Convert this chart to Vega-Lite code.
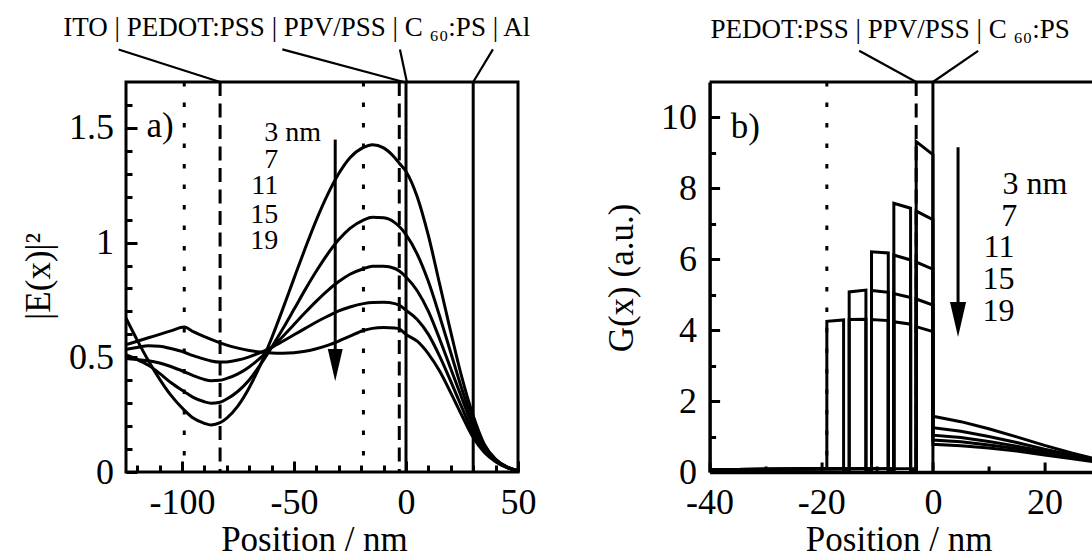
{
  "$schema": "https://vega.github.io/schema/vega-lite/v6.json",
  "autosize": {"type": "none"},
  "padding": {"left": 126, "top": 82, "right": 966, "bottom": 472},
  "background": "white",
  "bounds": "flush",
  "spacing": 191.6,
  "config": {
    "font": "Liberation Serif",
    "axis": {"labelFont": "Liberation Serif", "titleFont": "Liberation Serif", "labelColor": "black", "titleColor": "black", "tickColor": "black", "domainColor": "black", "grid": false, "titleFontWeight": "normal", "labelFlush": false, "labelOverlap": false, "labelBound": false}
  },
  "datasets": {
    "efield": [
      {"s":3,"x":-125,"y":0.67},{"s":3,"x":-120,"y":0.575},{"s":3,"x":-115,"y":0.485},{"s":3,"x":-110,"y":0.405},{"s":3,"x":-105,"y":0.335},{"s":3,"x":-99,"y":0.27},{"s":3,"x":-95,"y":0.235},{"s":3,"x":-90,"y":0.212},{"s":3,"x":-87,"y":0.205},{"s":3,"x":-83,"y":0.215},{"s":3,"x":-80,"y":0.235},{"s":3,"x":-75,"y":0.288},{"s":3,"x":-70,"y":0.367},{"s":3,"x":-65,"y":0.467},{"s":3,"x":-60,"y":0.583},{"s":3,"x":-55,"y":0.711},{"s":3,"x":-50,"y":0.844},{"s":3,"x":-45,"y":0.975},{"s":3,"x":-40,"y":1.099},{"s":3,"x":-35,"y":1.209},{"s":3,"x":-30,"y":1.301},{"s":3,"x":-25,"y":1.37},{"s":3,"x":-19,"y":1.415},{"s":3,"x":-15,"y":1.427},{"s":3,"x":-10,"y":1.413},{"s":3,"x":-5,"y":1.37},{"s":3,"x":-3,"y":1.346},{"s":3,"x":0,"y":1.31},{"s":3,"x":5,"y":1.2},{"s":3,"x":10,"y":1.03},{"s":3,"x":15,"y":0.82},{"s":3,"x":20,"y":0.61},{"s":3,"x":25,"y":0.41},{"s":3,"x":30,"y":0.245},{"s":3,"x":35,"y":0.12},{"s":3,"x":40,"y":0.055},{"s":3,"x":45,"y":0.022},{"s":3,"x":50,"y":0.006},
      {"s":7,"x":-125,"y":0.51},{"s":7,"x":-120,"y":0.49},{"s":7,"x":-115,"y":0.465},{"s":7,"x":-110,"y":0.43},{"s":7,"x":-105,"y":0.39},{"s":7,"x":-99,"y":0.35},{"s":7,"x":-95,"y":0.325},{"s":7,"x":-90,"y":0.306},{"s":7,"x":-87,"y":0.3},{"s":7,"x":-83,"y":0.304},{"s":7,"x":-80,"y":0.318},{"s":7,"x":-75,"y":0.352},{"s":7,"x":-70,"y":0.401},{"s":7,"x":-65,"y":0.468},{"s":7,"x":-60,"y":0.543},{"s":7,"x":-55,"y":0.624},{"s":7,"x":-50,"y":0.709},{"s":7,"x":-45,"y":0.795},{"s":7,"x":-40,"y":0.876},{"s":7,"x":-35,"y":0.95},{"s":7,"x":-30,"y":1.013},{"s":7,"x":-25,"y":1.062},{"s":7,"x":-19,"y":1.098},{"s":7,"x":-15,"y":1.11},{"s":7,"x":-10,"y":1.108},{"s":7,"x":-5,"y":1.087},{"s":7,"x":-3,"y":1.07},{"s":7,"x":0,"y":1.035},{"s":7,"x":5,"y":0.95},{"s":7,"x":10,"y":0.83},{"s":7,"x":15,"y":0.68},{"s":7,"x":20,"y":0.52},{"s":7,"x":25,"y":0.36},{"s":7,"x":30,"y":0.22},{"s":7,"x":35,"y":0.115},{"s":7,"x":40,"y":0.055},{"s":7,"x":45,"y":0.022},{"s":7,"x":50,"y":0.006},
      {"s":11,"x":-125,"y":0.495},{"s":11,"x":-120,"y":0.49},{"s":11,"x":-115,"y":0.485},{"s":11,"x":-110,"y":0.475},{"s":11,"x":-105,"y":0.46},{"s":11,"x":-99,"y":0.437},{"s":11,"x":-95,"y":0.42},{"s":11,"x":-90,"y":0.403},{"s":11,"x":-87,"y":0.398},{"s":11,"x":-83,"y":0.4},{"s":11,"x":-80,"y":0.408},{"s":11,"x":-75,"y":0.428},{"s":11,"x":-70,"y":0.458},{"s":11,"x":-65,"y":0.497},{"s":11,"x":-60,"y":0.542},{"s":11,"x":-55,"y":0.591},{"s":11,"x":-50,"y":0.643},{"s":11,"x":-45,"y":0.695},{"s":11,"x":-40,"y":0.745},{"s":11,"x":-35,"y":0.791},{"s":11,"x":-30,"y":0.83},{"s":11,"x":-25,"y":0.862},{"s":11,"x":-19,"y":0.886},{"s":11,"x":-15,"y":0.897},{"s":11,"x":-10,"y":0.897},{"s":11,"x":-5,"y":0.887},{"s":11,"x":-3,"y":0.876},{"s":11,"x":0,"y":0.85},{"s":11,"x":5,"y":0.79},{"s":11,"x":10,"y":0.7},{"s":11,"x":15,"y":0.58},{"s":11,"x":20,"y":0.45},{"s":11,"x":25,"y":0.32},{"s":11,"x":30,"y":0.195},{"s":11,"x":35,"y":0.105},{"s":11,"x":40,"y":0.052},{"s":11,"x":45,"y":0.021},{"s":11,"x":50,"y":0.006},
      {"s":15,"x":-125,"y":0.535},{"s":15,"x":-120,"y":0.543},{"s":15,"x":-115,"y":0.55},{"s":15,"x":-110,"y":0.548},{"s":15,"x":-105,"y":0.538},{"s":15,"x":-99,"y":0.522},{"s":15,"x":-95,"y":0.507},{"s":15,"x":-90,"y":0.492},{"s":15,"x":-87,"y":0.484},{"s":15,"x":-83,"y":0.479},{"s":15,"x":-80,"y":0.48},{"s":15,"x":-75,"y":0.488},{"s":15,"x":-70,"y":0.502},{"s":15,"x":-65,"y":0.52},{"s":15,"x":-60,"y":0.543},{"s":15,"x":-55,"y":0.57},{"s":15,"x":-50,"y":0.598},{"s":15,"x":-45,"y":0.626},{"s":15,"x":-40,"y":0.654},{"s":15,"x":-35,"y":0.679},{"s":15,"x":-30,"y":0.702},{"s":15,"x":-25,"y":0.719},{"s":15,"x":-19,"y":0.734},{"s":15,"x":-15,"y":0.739},{"s":15,"x":-10,"y":0.74},{"s":15,"x":-5,"y":0.734},{"s":15,"x":-3,"y":0.727},{"s":15,"x":0,"y":0.705},{"s":15,"x":5,"y":0.665},{"s":15,"x":10,"y":0.6},{"s":15,"x":15,"y":0.505},{"s":15,"x":20,"y":0.395},{"s":15,"x":25,"y":0.28},{"s":15,"x":30,"y":0.17},{"s":15,"x":35,"y":0.095},{"s":15,"x":40,"y":0.048},{"s":15,"x":45,"y":0.02},{"s":15,"x":50,"y":0.006},
      {"s":19,"x":-125,"y":0.555},{"s":19,"x":-120,"y":0.57},{"s":19,"x":-115,"y":0.585},{"s":19,"x":-110,"y":0.6},{"s":19,"x":-105,"y":0.615},{"s":19,"x":-99,"y":0.632},{"s":19,"x":-95,"y":0.612},{"s":19,"x":-90,"y":0.59},{"s":19,"x":-87,"y":0.578},{"s":19,"x":-83,"y":0.563},{"s":19,"x":-80,"y":0.553},{"s":19,"x":-75,"y":0.54},{"s":19,"x":-70,"y":0.53},{"s":19,"x":-65,"y":0.523},{"s":19,"x":-60,"y":0.519},{"s":19,"x":-55,"y":0.518},{"s":19,"x":-50,"y":0.52},{"s":19,"x":-45,"y":0.526},{"s":19,"x":-40,"y":0.537},{"s":19,"x":-35,"y":0.552},{"s":19,"x":-30,"y":0.571},{"s":19,"x":-25,"y":0.592},{"s":19,"x":-19,"y":0.617},{"s":19,"x":-15,"y":0.626},{"s":19,"x":-10,"y":0.63},{"s":19,"x":-5,"y":0.628},{"s":19,"x":-3,"y":0.624},{"s":19,"x":0,"y":0.6},{"s":19,"x":5,"y":0.57},{"s":19,"x":10,"y":0.515},{"s":19,"x":15,"y":0.44},{"s":19,"x":20,"y":0.345},{"s":19,"x":25,"y":0.245},{"s":19,"x":30,"y":0.15},{"s":19,"x":35,"y":0.085},{"s":19,"x":40,"y":0.045},{"s":19,"x":45,"y":0.019},{"s":19,"x":50,"y":0.006}
    ],
    "gen": [
      {"d":3,"i":1,"x":-40,"y":0.06},{"d":3,"i":2,"x":-30,"y":0.08},{"d":3,"i":3,"x":-3,"y":0.1},{"d":3,"i":4,"x":-3,"y":9.32},{"d":3,"i":5,"x":0,"y":8.95},{"d":3,"i":6,"x":0,"y":1.57},{"d":3,"i":7,"x":5,"y":1.42},{"d":3,"i":8,"x":10,"y":1.22},{"d":3,"i":9,"x":15,"y":0.99},{"d":3,"i":10,"x":20,"y":0.75},{"d":3,"i":11,"x":25,"y":0.53},{"d":3,"i":12,"x":30,"y":0.33},
      {"d":7,"i":1,"x":-40,"y":0.06},{"d":7,"i":2,"x":-30,"y":0.08},{"d":7,"i":3,"x":-7,"y":0.1},{"d":7,"i":4,"x":-7,"y":7.58},{"d":7,"i":5,"x":-4,"y":7.44},{"d":7,"i":6,"x":-4,"y":0.05},{"d":7,"i":7,"x":-3,"y":0.05},{"d":7,"i":8,"x":-3,"y":7.36},{"d":7,"i":9,"x":0,"y":7.12},{"d":7,"i":10,"x":0,"y":1.25},{"d":7,"i":11,"x":5,"y":1.15},{"d":7,"i":12,"x":10,"y":1.0},{"d":7,"i":13,"x":15,"y":0.83},{"d":7,"i":14,"x":20,"y":0.64},{"d":7,"i":15,"x":25,"y":0.47},{"d":7,"i":16,"x":30,"y":0.31},
      {"d":11,"i":1,"x":-40,"y":0.06},{"d":11,"i":2,"x":-30,"y":0.08},{"d":11,"i":3,"x":-11,"y":0.1},{"d":11,"i":4,"x":-11,"y":6.21},{"d":11,"i":5,"x":-8,"y":6.18},{"d":11,"i":6,"x":-8,"y":0.05},{"d":11,"i":7,"x":-7,"y":0.05},{"d":11,"i":8,"x":-7,"y":6.12},{"d":11,"i":9,"x":-4,"y":5.98},{"d":11,"i":10,"x":-4,"y":0.05},{"d":11,"i":11,"x":-3,"y":0.05},{"d":11,"i":12,"x":-3,"y":5.92},{"d":11,"i":13,"x":0,"y":5.72},{"d":11,"i":14,"x":0,"y":1.04},{"d":11,"i":15,"x":5,"y":0.97},{"d":11,"i":16,"x":10,"y":0.86},{"d":11,"i":17,"x":15,"y":0.73},{"d":11,"i":18,"x":20,"y":0.58},{"d":11,"i":19,"x":25,"y":0.43},{"d":11,"i":20,"x":30,"y":0.29},
      {"d":15,"i":1,"x":-40,"y":0.06},{"d":15,"i":2,"x":-30,"y":0.08},{"d":15,"i":3,"x":-15,"y":0.1},{"d":15,"i":4,"x":-15,"y":5.08},{"d":15,"i":5,"x":-12,"y":5.13},{"d":15,"i":6,"x":-12,"y":0.05},{"d":15,"i":7,"x":-11,"y":0.05},{"d":15,"i":8,"x":-11,"y":5.12},{"d":15,"i":9,"x":-8,"y":5.07},{"d":15,"i":10,"x":-8,"y":0.05},{"d":15,"i":11,"x":-7,"y":0.05},{"d":15,"i":12,"x":-7,"y":5.03},{"d":15,"i":13,"x":-4,"y":4.92},{"d":15,"i":14,"x":-4,"y":0.05},{"d":15,"i":15,"x":-3,"y":0.05},{"d":15,"i":16,"x":-3,"y":4.88},{"d":15,"i":17,"x":0,"y":4.71},{"d":15,"i":18,"x":0,"y":0.9},{"d":15,"i":19,"x":5,"y":0.85},{"d":15,"i":20,"x":10,"y":0.76},{"d":15,"i":21,"x":15,"y":0.66},{"d":15,"i":22,"x":20,"y":0.53},{"d":15,"i":23,"x":25,"y":0.4},{"d":15,"i":24,"x":30,"y":0.28},
      {"d":19,"i":1,"x":-40,"y":0.06},{"d":19,"i":2,"x":-30,"y":0.08},{"d":19,"i":3,"x":-19,"y":0.1},{"d":19,"i":4,"x":-19,"y":4.25},{"d":19,"i":5,"x":-16,"y":4.29},{"d":19,"i":6,"x":-16,"y":0.05},{"d":19,"i":7,"x":-15,"y":0.05},{"d":19,"i":8,"x":-15,"y":4.3},{"d":19,"i":9,"x":-12,"y":4.31},{"d":19,"i":10,"x":-12,"y":0.05},{"d":19,"i":11,"x":-11,"y":0.05},{"d":19,"i":12,"x":-11,"y":4.3},{"d":19,"i":13,"x":-8,"y":4.27},{"d":19,"i":14,"x":-8,"y":0.05},{"d":19,"i":15,"x":-7,"y":0.05},{"d":19,"i":16,"x":-7,"y":4.24},{"d":19,"i":17,"x":-4,"y":4.17},{"d":19,"i":18,"x":-4,"y":0.05},{"d":19,"i":19,"x":-3,"y":0.05},{"d":19,"i":20,"x":-3,"y":4.1},{"d":19,"i":21,"x":0,"y":3.96},{"d":19,"i":22,"x":0,"y":0.78},{"d":19,"i":23,"x":5,"y":0.74},{"d":19,"i":24,"x":10,"y":0.68},{"d":19,"i":25,"x":15,"y":0.59},{"d":19,"i":26,"x":20,"y":0.48},{"d":19,"i":27,"x":25,"y":0.37},{"d":19,"i":28,"x":30,"y":0.26}
    ]
  },
  "hconcat": [
    {
      "width": 392,
      "height": 390,
      "view": {"stroke": "black", "strokeWidth": 3},
      "resolve": {"axis": {"x": "independent", "y": "independent"}},
      "layer": [
        {
          "data": {"name": "efield"},
          "mark": {"type": "line", "color": "black", "strokeWidth": 3, "interpolate": "monotone"},
          "encoding": {
            "x": {"field": "x", "type": "quantitative", "scale": {"domain": [-125, 50], "nice": false, "zero": false},
              "axis": {"orient": "bottom", "values": [-100, -50, 0, 50], "format": "d", "labelExpr": "'' + datum.value",
                "tickSize": -11, "tickWidth": 3, "domain": false, "labelFontSize": 36, "labelPadding": 24.5, "labelOverlap": false, "labelFlush": false,
                "title": "Position / nm", "titleFontSize": 35, "titleX": 188, "titleY": 78, "titleAlign": "center", "titleBaseline": "alphabetic", "titleAngle": 0}},
            "y": {"field": "y", "type": "quantitative", "scale": {"domain": [0, 1.7], "nice": false, "zero": false},
              "axis": {"orient": "left", "values": [0, 0.5, 1, 1.5], "labelExpr": "'' + datum.value",
                "tickSize": -11, "tickWidth": 3, "domain": false, "labelFontSize": 36, "labelPadding": 23.5, "labelOverlap": false, "labelFlush": false,
                "title": "|E(x)|²", "titleFontSize": 35, "titleX": -87.7, "titleY": 193.8, "titleAngle": 270, "titleAlign": "center", "titleBaseline": "middle"}},
            "detail": {"field": "s", "type": "nominal"}
          }
        },
        {
          "data": {"values": [{"x": -99}, {"x": -19}]},
          "mark": {"type": "rule", "color": "black", "strokeWidth": 3, "strokeDash": [4.5, 16]},
          "encoding": {"x": {"field": "x", "type": "quantitative",
            "axis": {"orient": "bottom", "values": [-120,-110,-90,-80,-70,-60,-40,-30,-20,-10,10,20,30,40], "tickSize": -7, "tickWidth": 3, "labels": false, "domain": false, "title": null}}}
        },
        {
          "data": {"values": [{"x": -83}, {"x": -3}]},
          "mark": {"type": "rule", "color": "black", "strokeWidth": 3, "strokeDash": [14, 7.5]},
          "encoding": {"x": {"field": "x", "type": "quantitative", "axis": null}}
        },
        {
          "data": {"values": [{"x": 0}, {"x": 30}]},
          "mark": {"type": "rule", "color": "black", "strokeWidth": 3},
          "encoding": {"x": {"field": "x", "type": "quantitative", "axis": null}}
        },
        {
          "data": {"values": [{"x": -128.3, "y": 1.842, "x2": -83, "y2": 1.7}, {"x": -55.2, "y": 1.842, "x2": -1, "y2": 1.7}, {"x": -2.7, "y": 1.842, "x2": 0.4, "y2": 1.7}, {"x": 38.8, "y": 1.842, "x2": 30, "y2": 1.7}]},
          "mark": {"type": "rule", "color": "black", "strokeWidth": 2.2},
          "encoding": {
            "x": {"field": "x", "type": "quantitative", "axis": null},
            "y": {"field": "y", "type": "quantitative", "axis": null},
            "x2": {"field": "x2"}, "y2": {"field": "y2"}
          }
        },
        {
          "data": {"values": [{"x": -48.75, "y": 1.9, "t": "ITO | PEDOT:PSS | PPV/PSS | C ₆₀:PS | Al"}]},
          "mark": {"type": "text", "font": "Liberation Serif", "fontSize": 27, "align": "center", "baseline": "alphabetic", "color": "black"},
          "encoding": {
            "x": {"field": "x", "type": "quantitative", "axis": null},
            "y": {"field": "y", "type": "quantitative", "axis": null},
            "text": {"field": "t"}
          }
        },
        {
          "data": {"values": [{"x": -115.9, "y": 1.462, "t": "a)"}]},
          "mark": {"type": "text", "font": "Liberation Serif", "fontSize": 35, "align": "left", "baseline": "alphabetic", "color": "black"},
          "encoding": {
            "x": {"field": "x", "type": "quantitative", "axis": null},
            "y": {"field": "y", "type": "quantitative", "axis": null},
            "text": {"field": "t"}
          }
        },
        {
          "data": {"values": [{"x": -63.3, "y": 1.478, "t": "3 nm"}]},
          "mark": {"type": "text", "font": "Liberation Serif", "fontSize": 28, "align": "left", "baseline": "middle", "color": "black"},
          "encoding": {
            "x": {"field": "x", "type": "quantitative", "axis": null},
            "y": {"field": "y", "type": "quantitative", "axis": null},
            "text": {"field": "t"}
          }
        },
        {
          "data": {"values": [{"x": -57.0, "y": 1.362, "t": "7"}, {"x": -57.0, "y": 1.245, "t": "11"}, {"x": -57.0, "y": 1.122, "t": "15"}, {"x": -57.0, "y": 1.006, "t": "19"}]},
          "mark": {"type": "text", "font": "Liberation Serif", "fontSize": 28, "align": "right", "baseline": "middle", "color": "black"},
          "encoding": {
            "x": {"field": "x", "type": "quantitative", "axis": null},
            "y": {"field": "y", "type": "quantitative", "axis": null},
            "text": {"field": "t"}
          }
        },
        {
          "data": {"values": [{"x": -31.6, "y": 1.449, "y2": 0.5}]},
          "mark": {"type": "rule", "color": "black", "strokeWidth": 3},
          "encoding": {
            "x": {"field": "x", "type": "quantitative", "axis": null},
            "y": {"field": "y", "type": "quantitative",
              "axis": {"orient": "left", "values": [0.1,0.2,0.3,0.4,0.6,0.7,0.8,0.9,1.1,1.2,1.3,1.4,1.6], "tickSize": -6, "tickWidth": 3, "labels": false, "domain": false, "title": null}},
            "y2": {"field": "y2"}
          }
        },
        {
          "data": {"values": [{"x": -31.6, "y": 0.466}]},
          "mark": {"type": "point", "shape": "M-0.46,-1L0.46,-1L0,1Z", "size": 1050, "filled": true, "color": "black", "opacity": 1, "strokeWidth": 0},
          "encoding": {
            "x": {"field": "x", "type": "quantitative", "axis": null},
            "y": {"field": "y", "type": "quantitative", "axis": null}
          }
        }
      ]
    },
    {
      "width": 383,
      "height": 390,
      "view": {"stroke": null},
      "resolve": {"axis": {"x": "independent", "y": "independent"}},
      "layer": [
        {
          "data": {"name": "gen"},
          "mark": {"type": "line", "color": "black", "strokeWidth": 3, "clip": true},
          "encoding": {
            "x": {"field": "x", "type": "quantitative", "scale": {"domain": [-40, 28.6], "nice": false, "zero": false},
              "axis": {"orient": "bottom", "values": [-40, -20, 0, 20], "labelExpr": "'' + datum.value",
                "tickSize": -10, "tickWidth": 3, "domain": true, "domainWidth": 3.5, "labelFontSize": 36, "labelPadding": 23.5, "labelOverlap": false, "labelFlush": false,
                "title": "Position / nm", "titleFontSize": 35, "titleX": 189.1, "titleY": 78, "titleAlign": "center", "titleBaseline": "alphabetic", "titleAngle": 0}},
            "y": {"field": "y", "type": "quantitative", "scale": {"domain": [0, 11], "nice": false, "zero": false},
              "axis": {"orient": "left", "values": [0, 2, 4, 6, 8, 10], "labelExpr": "'' + datum.value",
                "tickSize": -10, "tickWidth": 3, "domain": true, "domainWidth": 3.5, "labelFontSize": 36, "labelPadding": 23, "labelOverlap": false, "labelFlush": false,
                "title": "G(x) (a.u.)", "titleFontSize": 35, "titleX": -88.6, "titleY": 195.5, "titleAngle": 270, "titleAlign": "center", "titleBaseline": "middle"}},
            "detail": {"field": "d", "type": "nominal"},
            "order": {"field": "i", "type": "quantitative"}
          }
        },
        {
          "data": {"values": [{"x": -19}]},
          "mark": {"type": "rule", "color": "black", "strokeWidth": 3, "strokeDash": [4.5, 16]},
          "encoding": {"x": {"field": "x", "type": "quantitative",
            "axis": {"orient": "bottom", "values": [-30, -10, 10], "tickSize": -6, "tickWidth": 3, "labels": false, "domain": false, "title": null}}}
        },
        {
          "data": {"values": [{"x": -3}]},
          "mark": {"type": "rule", "color": "black", "strokeWidth": 3, "strokeDash": [14, 7.5]},
          "encoding": {"x": {"field": "x", "type": "quantitative", "axis": null}}
        },
        {
          "data": {"values": [{"x": 0}]},
          "mark": {"type": "rule", "color": "black", "strokeWidth": 3},
          "encoding": {"x": {"field": "x", "type": "quantitative", "axis": null}}
        },
        {
          "data": {"values": [{"y": 11}]},
          "mark": {"type": "rule", "color": "black", "strokeWidth": 3},
          "encoding": {"y": {"field": "y", "type": "quantitative", "axis": null}}
        },
        {
          "data": {"values": [{"x": -13.2, "y": 11.88, "x2": -3, "y2": 11}, {"x": 8.1, "y": 11.88, "x2": 0, "y2": 11}]},
          "mark": {"type": "rule", "color": "black", "strokeWidth": 2.2},
          "encoding": {
            "x": {"field": "x", "type": "quantitative", "axis": null},
            "y": {"field": "y", "type": "quantitative", "axis": null},
            "x2": {"field": "x2"}, "y2": {"field": "y2"}
          }
        },
        {
          "data": {"values": [{"x": -7.65, "y": 12.25, "t": "PEDOT:PSS | PPV/PSS | C ₆₀:PS"}]},
          "mark": {"type": "text", "font": "Liberation Serif", "fontSize": 27, "align": "center", "baseline": "alphabetic", "color": "black"},
          "encoding": {
            "x": {"field": "x", "type": "quantitative", "axis": null},
            "y": {"field": "y", "type": "quantitative", "axis": null},
            "text": {"field": "t"}
          }
        },
        {
          "data": {"values": [{"x": -36.2, "y": 9.43, "t": "b)"}]},
          "mark": {"type": "text", "font": "Liberation Serif", "fontSize": 35, "align": "left", "baseline": "alphabetic", "color": "black"},
          "encoding": {
            "x": {"field": "x", "type": "quantitative", "axis": null},
            "y": {"field": "y", "type": "quantitative", "axis": null},
            "text": {"field": "t"}
          }
        },
        {
          "data": {"values": [{"x": 12.47, "y": 8.12, "t": "3 nm"}]},
          "mark": {"type": "text", "font": "Liberation Serif", "fontSize": 32, "align": "left", "baseline": "middle", "color": "black"},
          "encoding": {
            "x": {"field": "x", "type": "quantitative", "axis": null},
            "y": {"field": "y", "type": "quantitative", "axis": null},
            "text": {"field": "t"}
          }
        },
        {
          "data": {"values": [{"x": 15.1, "y": 7.23, "t": "7"}, {"x": 14.6, "y": 6.34, "t": "11"}, {"x": 14.6, "y": 5.45, "t": "15"}, {"x": 14.6, "y": 4.55, "t": "19"}]},
          "mark": {"type": "text", "font": "Liberation Serif", "fontSize": 32, "align": "right", "baseline": "middle", "color": "black"},
          "encoding": {
            "x": {"field": "x", "type": "quantitative", "axis": null},
            "y": {"field": "y", "type": "quantitative", "axis": null},
            "text": {"field": "t"}
          }
        },
        {
          "data": {"values": [{"x": 4.5, "y": 9.16, "y2": 4.6}]},
          "mark": {"type": "rule", "color": "black", "strokeWidth": 3},
          "encoding": {
            "x": {"field": "x", "type": "quantitative", "axis": null},
            "y": {"field": "y", "type": "quantitative",
              "axis": {"orient": "left", "values": [1, 3, 5, 7, 9], "tickSize": -6, "tickWidth": 3, "labels": false, "domain": false, "title": null}},
            "y2": {"field": "y2"}
          }
        },
        {
          "data": {"values": [{"x": 4.5, "y": 4.3}]},
          "mark": {"type": "point", "shape": "M-0.46,-1L0.46,-1L0,1Z", "size": 1225, "filled": true, "color": "black", "opacity": 1, "strokeWidth": 0},
          "encoding": {
            "x": {"field": "x", "type": "quantitative", "axis": null},
            "y": {"field": "y", "type": "quantitative", "axis": null}
          }
        }
      ]
    }
  ]
}
